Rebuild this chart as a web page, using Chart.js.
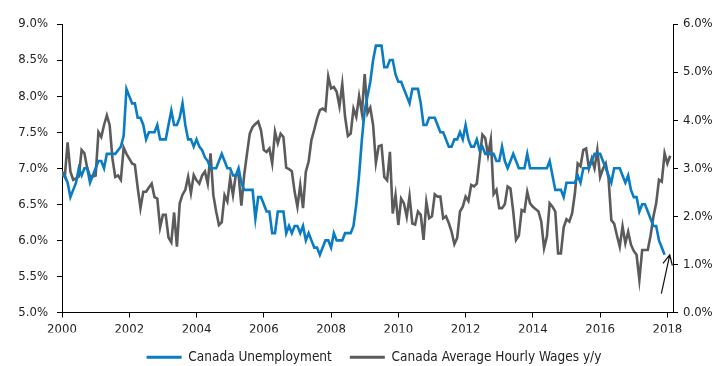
<!DOCTYPE html>
<html>
<head>
<meta charset="utf-8">
<script src="https://cdn.jsdelivr.net/npm/chart.js@4"></script>
<style>
  html, body { margin: 0; padding: 0; background: #fff; }
  #wrap { width: 728px; height: 366px; }
</style>
</head>
<body>
<div id="wrap"><canvas id="chart" width="728" height="366"></canvas></div>
<script>
// Monthly series, starting January 2000
const startYear = 2000;
const yearTicks = [2000, 2002, 2004, 2006, 2008, 2010, 2012, 2014, 2016, 2018];
const seriesNames = ['Canada Unemployment', 'Canada Average Hourly Wages y/y'];

// unemployment rate, % (left axis)
const unemployment = [
  6.9, 6.9, 6.8, 6.6, 6.7, 6.8, 7.0, 6.9, 7.0, 7.0, 6.8, 6.9,
  7.0, 7.1, 7.1, 7.0, 7.2, 7.2, 7.2, 7.2, 7.25, 7.3, 7.45, 8.1,
  8.0, 7.9, 7.9, 7.7, 7.7, 7.6, 7.4, 7.5, 7.5, 7.5, 7.6, 7.4,
  7.4, 7.4, 7.6, 7.8, 7.6, 7.6, 7.7, 7.9, 7.6, 7.4, 7.4, 7.3,
  7.4, 7.3, 7.25, 7.15, 7.1, 7.0, 7.0, 7.0, 7.1, 7.2, 7.1, 7.0,
  7.0, 6.9, 6.9, 7.0, 6.8, 6.7, 6.7, 6.7, 6.7, 6.3, 6.6, 6.6,
  6.5, 6.4, 6.4, 6.1, 6.1, 6.4, 6.4, 6.4, 6.1, 6.2, 6.1, 6.2,
  6.2, 6.1, 6.2, 6.0, 6.1, 6.0, 5.9, 5.9, 5.8, 5.9, 6.0, 6.0,
  5.9, 6.1, 6.0, 6.0, 6.0, 6.1, 6.1, 6.1, 6.2, 6.5, 6.9, 7.4,
  7.8, 8.0, 8.2, 8.5, 8.7, 8.7, 8.7, 8.4, 8.4, 8.5, 8.5, 8.3,
  8.2, 8.2, 8.1, 8.0, 7.9, 8.1, 8.1, 8.1, 7.9, 7.6, 7.6, 7.7,
  7.7, 7.7, 7.6, 7.5, 7.5, 7.4, 7.3, 7.3, 7.4, 7.4, 7.5, 7.4,
  7.6, 7.4, 7.3, 7.3, 7.4, 7.25, 7.3, 7.2, 7.2, 7.2, 7.2, 7.1,
  7.1, 7.3, 7.1, 7.0, 7.1, 7.2, 7.1, 7.0, 7.0, 7.0, 7.2, 7.0,
  7.0, 7.0, 7.0, 7.0, 7.0, 7.0, 7.1, 6.9, 6.7, 6.7, 6.7, 6.6,
  6.8, 6.8, 6.8, 6.8, 6.9, 6.8, 7.0, 7.0, 7.0, 7.1, 7.2, 7.2,
  7.2, 7.1, 7.0, 6.9, 6.8, 7.0, 7.0, 7.0, 6.9, 6.8, 6.9, 6.7,
  6.6, 6.6, 6.4, 6.5, 6.5, 6.4, 6.3, 6.2, 6.2, 6.0, 5.9, 5.8
];

// average hourly wages, y/y % (right axis)
const wages = [
  2.93, 2.82, 3.54, 2.93, 2.76, 2.79, 2.83, 3.38, 3.31, 3.0, 2.83, 2.83,
  2.85, 3.75, 3.65, 3.9, 4.1, 3.9, 3.2, 2.82, 2.85, 2.76, 3.43, 3.3,
  3.2, 3.1, 3.07, 2.6, 2.17, 2.51, 2.51, 2.6, 2.68, 2.4, 2.37, 1.77,
  2.03, 2.03, 1.56, 1.46, 2.08, 1.37, 2.27, 2.45, 2.55, 2.82, 2.48, 2.86,
  2.75, 2.68, 2.85, 2.93, 2.68, 3.31, 2.44, 2.1, 1.82, 1.88, 2.44, 2.31,
  2.79, 2.44, 2.86, 2.86, 2.22, 2.86, 3.3, 3.72, 3.86, 3.92, 3.97, 3.79,
  3.38, 3.34, 3.41, 3.1, 3.76, 3.52, 3.72, 3.65, 3.01, 2.98, 2.94, 2.51,
  2.2, 2.65, 2.17, 2.93, 3.14, 3.59, 3.8, 4.03, 4.21, 4.24, 4.2, 4.91,
  4.66, 4.69, 4.59, 4.29, 4.75, 4.07, 3.67, 3.72, 4.24, 4.07, 4.5, 4.15,
  4.96, 4.14, 4.26, 3.9, 3.11, 3.46, 3.48, 2.82, 2.75, 3.34, 2.06, 2.44,
  1.82, 2.37, 2.27, 1.99, 2.42, 1.85, 1.83, 2.1, 2.03, 1.51, 2.3, 1.96,
  2.0, 2.46, 2.41, 2.41, 1.96, 2.0, 1.86, 1.68, 1.42, 1.55, 2.1, 2.2,
  2.41, 2.32, 2.65, 2.62, 2.68, 3.2, 3.7, 3.63, 3.27, 3.6, 2.46, 2.55,
  2.17, 2.17, 2.25, 2.62, 2.58, 2.1, 1.51, 1.6, 2.13, 2.1, 2.51, 2.27,
  2.2, 2.15, 2.1, 1.89, 1.34, 1.58, 2.27, 2.2, 2.1, 1.23, 1.23, 1.77,
  1.94, 1.89, 2.06, 2.48, 3.1, 3.04, 3.38, 3.41, 3.0, 3.2, 3.0, 3.38,
  2.82, 2.99, 3.1, 2.79, 1.92, 1.85, 1.6, 1.37, 1.79, 1.44, 1.68, 1.41,
  1.28, 1.2, 0.68, 1.3, 1.3, 1.3, 1.6, 1.99, 2.27, 2.76, 2.72, 3.31,
  3.1, 3.26
];

// arrow next to the latest unemployment reading (x in years, y on left axis)
const arrow = { fromX: 2017.82, fromY: 5.26, toX: 2018.07, toY: 5.8 };

const BLUE = '#0a7cc4';
const GREY = '#5b5b5b';
const INK = '#222';
const FONT = "'DejaVu Sans Condensed', 'Liberation Sans', sans-serif";

function toPoints(values) {
  return values.map((v, i) => ({ x: startYear + i / 12, y: v }));
}

const arrowPlugin = {
  id: 'arrow',
  afterDatasetsDraw(chart) {
    const x = chart.scales.x, y = chart.scales.yLeft;
    const x1 = x.getPixelForValue(arrow.fromX), y1 = y.getPixelForValue(arrow.fromY);
    const x2 = x.getPixelForValue(arrow.toX), y2 = y.getPixelForValue(arrow.toY);
    const ang = Math.atan2(y2 - y1, x2 - x1);
    const head = 11, spread = 0.45;
    const ctx = chart.ctx;
    ctx.save();
    ctx.strokeStyle = '#111';
    ctx.lineWidth = 1.2;
    ctx.beginPath();
    ctx.moveTo(x1, y1);
    ctx.lineTo(x2, y2);
    ctx.moveTo(x2 - head * Math.cos(ang - spread), y2 - head * Math.sin(ang - spread));
    ctx.lineTo(x2, y2);
    ctx.lineTo(x2 - head * Math.cos(ang + spread), y2 - head * Math.sin(ang + spread));
    ctx.stroke();
    ctx.restore();
  }
};

// nudge the legend row a little to the right of the canvas centre
const legendShift = {
  id: 'legendShift',
  afterLayout(chart) {
    if (chart.legend) chart.legend.left += 20;
  }
};

Chart.defaults.font.family = FONT;
Chart.defaults.font.size = 13;
Chart.defaults.color = INK;

const axisLine = { display: true, color: '#000', width: 1 };
const outerTicks = { drawOnChartArea: false, drawTicks: true, tickLength: 5, color: '#000' };

new Chart(document.getElementById('chart'), {
  type: 'line',
  data: {
    datasets: [
      {
        label: seriesNames[0],
        data: toPoints(unemployment),
        yAxisID: 'yLeft',
        borderColor: BLUE,
        backgroundColor: BLUE,
        borderWidth: 2.6,
        pointRadius: 0,
        tension: 0
      },
      {
        label: seriesNames[1],
        data: toPoints(wages),
        yAxisID: 'yRight',
        borderColor: GREY,
        backgroundColor: GREY,
        borderWidth: 2.6,
        pointRadius: 0,
        tension: 0
      }
    ]
  },
  options: {
    responsive: false,
    animation: false,
    events: [],
    // bottom padding is negative so the legend row sits low
    layout: { padding: { top: 24, right: 0, bottom: -8, left: 0 } },
    plugins: {
      tooltip: { enabled: false },
      legend: {
        position: 'bottom',
        labels: {
          boxWidth: 35,
          boxHeight: 3,
          padding: 18,
          font: { size: 13.5 },
          generateLabels(chart) {
            return chart.data.datasets.map((ds, i) => ({
              text: ds.label,
              fillStyle: ds.borderColor,
              strokeStyle: ds.borderColor,
              lineWidth: 0,
              datasetIndex: i,
              fontColor: INK
            }));
          }
        }
      }
    },
    scales: {
      x: {
        type: 'linear',
        min: startYear,
        max: startYear + 218 / 12,
        border: axisLine,
        grid: outerTicks,
        afterBuildTicks(scale) {
          scale.ticks = yearTicks.map(v => ({ value: v }));
        },
        afterFit(scale) { scale.height = 20; },
        ticks: {
          autoSkip: false,
          maxRotation: 0,
          padding: 4,
          callback: v => String(v)
        }
      },
      yLeft: {
        position: 'left',
        min: 5,
        max: 9,
        border: axisLine,
        grid: outerTicks,
        afterFit(scale) { scale.width = 62; },
        ticks: {
          stepSize: 0.5,
          padding: 9,
          callback: v => v.toFixed(1) + '%'
        }
      },
      yRight: {
        position: 'right',
        min: 0,
        max: 6,
        border: axisLine,
        grid: outerTicks,
        afterFit(scale) { scale.width = 55; },
        ticks: {
          stepSize: 1,
          padding: 5,
          callback: v => v.toFixed(1) + '%'
        }
      }
    }
  },
  plugins: [arrowPlugin, legendShift]
});
</script>
</body>
</html>
